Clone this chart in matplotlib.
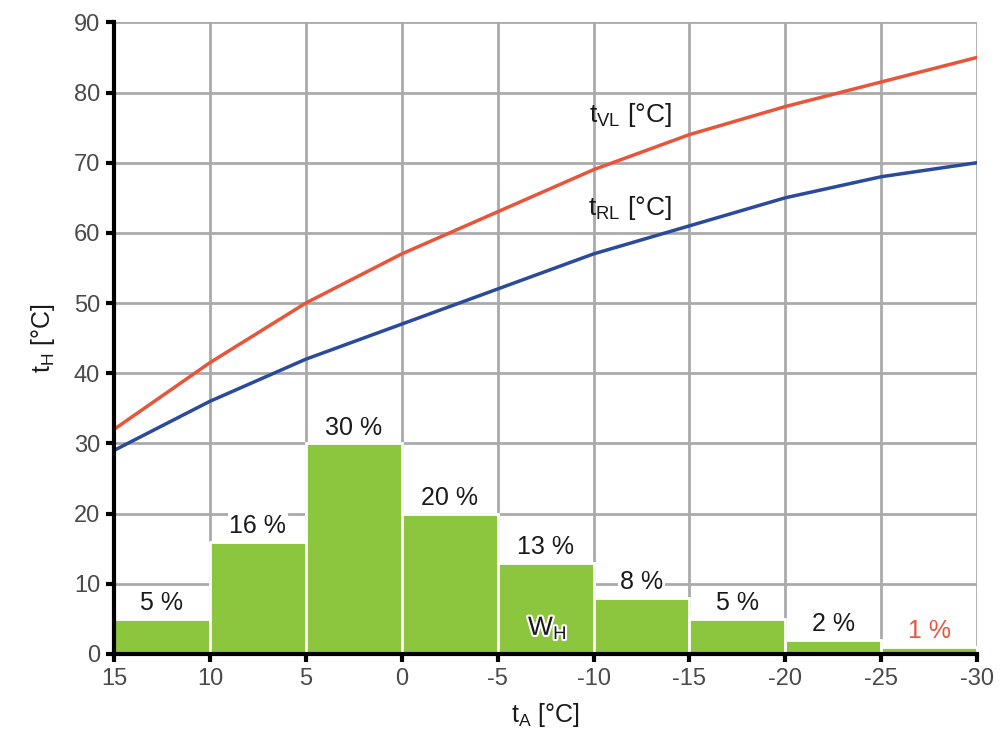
import matplotlib.pyplot as plt
import matplotlib.patheffects as pe

plt.rcParams['font.family'] = ['Liberation Sans', 'DejaVu Sans']
plt.rcParams['axes.unicode_minus'] = False

# outside temperature, supply / return temperature
t_a = [15, 10, 5, 0, -5, -10, -15, -20, -25, -30]
t_vl = [32, 41.5, 50, 57, 63, 69, 74, 78, 81.5, 85]
t_rl = [29, 36, 42, 47, 52, 57, 61, 65, 68, 70]

# share of heating work per 5 K band
bar_left = [15, 10, 5, 0, -5, -10, -15, -20, -25]
w_h = [5, 16, 30, 20, 13, 8, 5, 2, 1]
bar_labels = ['5 %', '16 %', '30 %', '20 %', '13 %', '8 %', '5 %', '2 %', '1 %']

green = '#8cc63f'
red = '#e8553a'
blue = '#2a4a9c'
grid_c = '#aaaaaa'

fig = plt.figure(figsize=(10.06, 7.44), dpi=100)
ax = fig.add_axes([0.1133, 0.121, 0.858, 0.849])

ax.bar(bar_left, w_h, width=-5, align='edge', color=green,
       edgecolor='white', linewidth=2, zorder=2)

for x0, h, lab in zip(bar_left, w_h, bar_labels):
    c = red if lab == '1 %' else '#1a1a1a'
    ax.text(x0 - 2.5, h + 0.5, lab, ha='center', va='bottom', fontsize=18,
            color=c, zorder=4,
            bbox=dict(facecolor='white', edgecolor='none', pad=1.0))

ax.plot(t_a, t_vl, color=red, lw=2.5, zorder=3)
ax.plot(t_a, t_rl, color=blue, lw=2.5, zorder=3)

ax.text(-11.9, 76.8, r'$\mathregular{t_{VL}}$ [°C]', fontsize=19, ha='center',
        va='center', color='#1a1a1a')
ax.text(-11.9, 63.5, r'$\mathregular{t_{RL}}$ [°C]', fontsize=19, ha='center',
        va='center', color='#1a1a1a')
ax.text(-7.6, 3.7, r'$\mathregular{W_H}$', fontsize=19, ha='center',
        va='center', color='#1a1a1a', zorder=5,
        path_effects=[pe.withStroke(linewidth=3, foreground='white')])

ax.set_xlim(15, -30)
ax.set_ylim(0, 90)
ax.set_xticks(t_a)
ax.set_yticks(range(0, 91, 10))
ax.grid(True, color=grid_c, lw=2, zorder=0)
ax.set_axisbelow(True)

for s in ['top', 'right']:
    ax.spines[s].set_visible(False)
for s in ['left', 'bottom']:
    ax.spines[s].set_linewidth(3)
    ax.spines[s].set_zorder(5)
ax.tick_params(direction='out', length=6, width=3, labelsize=17,
               labelcolor='#4a4a4a', pad=4)

ax.set_xlabel(r'$\mathregular{t_A}$ [°C]', fontsize=18, color='#1a1a1a', labelpad=8)
ax.set_ylabel(r'$\mathregular{t_H}$ [°C]', fontsize=18, color='#1a1a1a', labelpad=12)

fig.savefig('out.png', dpi=100)
